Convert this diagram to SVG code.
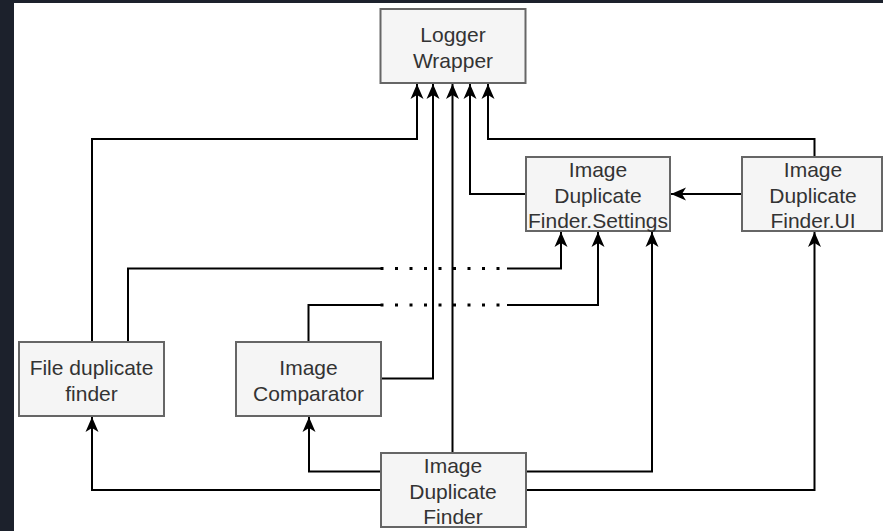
<svg xmlns="http://www.w3.org/2000/svg" width="883" height="531" viewBox="0 0 883 531">
  <style>
    .node rect { fill: #f5f5f5; stroke: #666666; stroke-width: 2; }
    .node text { font-family: "Liberation Sans", Arial, sans-serif; font-size: 21px; fill: #333333; text-anchor: middle; }
    .edge { fill: none; stroke: #000000; stroke-width: 2; }
    .arrow { marker-end: url(#arrowhead); }
    .dots { fill: none; stroke: #000000; stroke-width: 3; stroke-dasharray: 3 11.5; }
  </style>
  <defs>
    <marker id="arrowhead" markerUnits="userSpaceOnUse" viewBox="-16 -7 17 14" refX="0" refY="0" markerWidth="17" markerHeight="14" orient="auto">
      <path d="M0,0 L-15,-6.5 L-11,0 L-15,6.5 Z" fill="#000000"/>
    </marker>
  </defs>

  <!-- canvas frame -->
  <rect x="0" y="0" width="883" height="531" fill="#1c212c"/>
  <rect x="14" y="3" width="869" height="528" fill="#ffffff"/>

  <g id="connectors">
    <!-- dependencies on the logger -->
    <path class="edge arrow" d="M92,342 V139 H417 V84"/>
    <path class="edge arrow" d="M381,378.5 H433 V84"/>
    <path class="edge arrow" d="M452.5,453 V84"/>
    <path class="edge arrow" d="M526,194 H470 V84"/>
    <path class="edge arrow" d="M814.5,157 V139 H488 V84"/>
    <!-- UI to settings -->
    <path class="edge arrow" d="M742,194 H671"/>
    <!-- settings usage, routed with dotted crossing -->
    <path class="edge" d="M128,342 V268.5 H382"/>
    <line class="dots" x1="380.5" y1="268.5" x2="499.5" y2="268.5"/>
    <path class="edge arrow" d="M507,268.5 H561 V232"/>
    <path class="edge" d="M308.5,342 V305 H382"/>
    <line class="dots" x1="380.5" y1="305" x2="499.5" y2="305"/>
    <path class="edge arrow" d="M507,305 H598 V232"/>
    <!-- main application links -->
    <path class="edge arrow" d="M381,471.5 H309 V417"/>
    <path class="edge arrow" d="M381,490 H92 V417"/>
    <path class="edge arrow" d="M526,471.5 H652 V232"/>
    <path class="edge arrow" d="M526,490 H814.5 V232"/>
  </g>

  <g id="logger-wrapper" class="node">
    <rect x="380.5" y="9" width="145" height="74"/>
    <text x="453" y="42">Logger</text>
    <text x="453" y="68">Wrapper</text>
  </g>

  <g id="settings" class="node">
    <rect x="526" y="157" width="144" height="74"/>
    <text x="598" y="177">Image</text>
    <text x="598" y="202.5">Duplicate</text>
    <text x="598" y="228">Finder.Settings</text>
  </g>

  <g id="ui" class="node">
    <rect x="742" y="157" width="140" height="74"/>
    <text x="813" y="177">Image</text>
    <text x="813" y="202.5">Duplicate</text>
    <text x="813" y="228">Finder.UI</text>
  </g>

  <g id="file-duplicate-finder" class="node">
    <rect x="19" y="342" width="145" height="74"/>
    <text x="91.5" y="375">File duplicate</text>
    <text x="91.5" y="401">finder</text>
  </g>

  <g id="image-comparator" class="node">
    <rect x="236" y="342" width="145" height="74"/>
    <text x="308.5" y="375">Image</text>
    <text x="308.5" y="401">Comparator</text>
  </g>

  <g id="image-duplicate-finder" class="node">
    <rect x="381" y="453" width="145" height="74"/>
    <text x="453" y="473">Image</text>
    <text x="453" y="498.5">Duplicate</text>
    <text x="453" y="524">Finder</text>
  </g>
</svg>
